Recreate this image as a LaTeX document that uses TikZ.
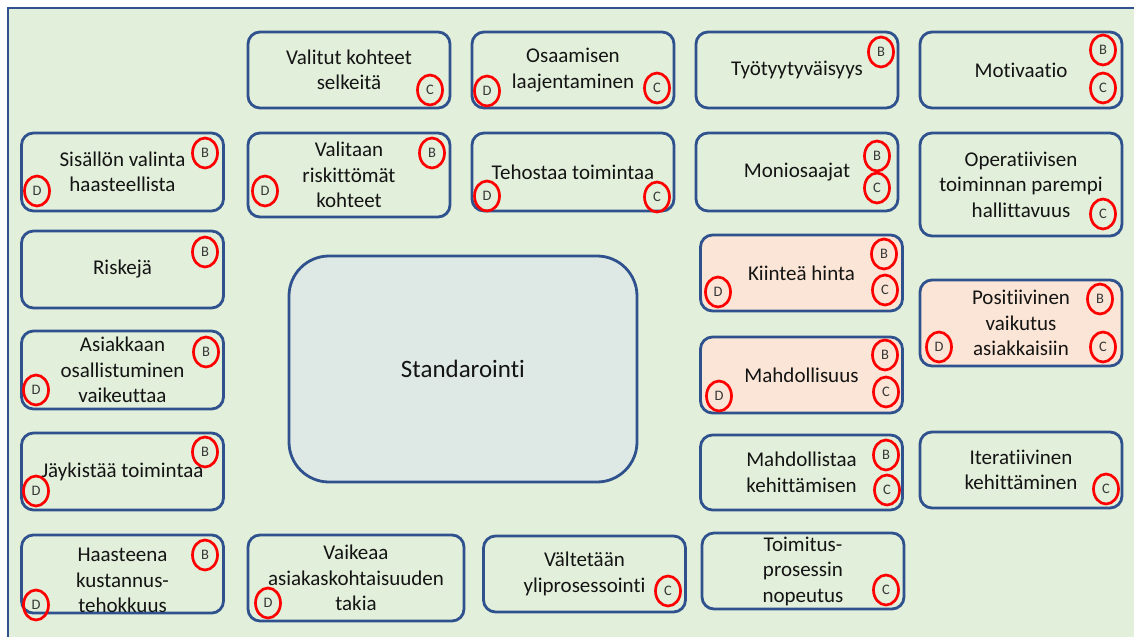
\documentclass[tikz,border=0pt]{standalone}
\usepackage{fontspec}
\setmainfont{Carlito}[Ligatures={NoCommon,NoRequired}]
\usetikzlibrary{shapes.geometric}
\definecolor{bg}{RGB}{226,239,218}
\definecolor{edge}{RGB}{47,82,143}
\definecolor{peach}{RGB}{251,229,214}
\definecolor{core}{RGB}{222,233,229}
\definecolor{ring}{RGB}{255,0,0}
\definecolor{ink}{RGB}{20,20,20}

\begin{document}
\begin{tikzpicture}[x=1pt,y=-1pt,
  box/.style={draw=edge, line width=2.8pt, rounded corners=12pt, align=center,
    inner sep=0pt, text=ink, font=\fontsize{21}{25.5}\selectfont},
  wide/.style={minimum width=202pt},
  warm/.style={fill=peach},
  tag/.style={ellipse, draw=ring, line width=2.7pt, minimum width=25pt,
    minimum height=30pt, inner sep=0pt, text=ink!85,
    font=\fontsize{14.5}{14.5}\selectfont}]

% canvas
\useasboundingbox (0,0) rectangle (1134,637);
\fill[white] (0,0) rectangle (1134,637);
\fill[bg] (8,8) rectangle (1134,637);
\draw[edge, line width=2pt] (8,637) -- (8,8) -- (1134,8);

% row 1
\node[box, wide, minimum height=76pt] (valitut) at (349,70) {Valitut kohteet\\selkeitä};
\node[box, wide, minimum height=76pt] (osaam) at (573,70) {Osaamisen\\laajentaminen};
\node[box, wide, minimum height=76pt] (tyo) at (797,70) {Työtyytyväisyys};
\node[box, wide, minimum height=76pt] (motiv) at (1021,70) {Motivaatio};

% row 2
\node[box, wide, minimum height=78pt] (sisallon) at (122.5,172) {Sisällön valinta\\haasteellista};
\node[box, wide, minimum height=84pt] (valitaan) at (349,175) {Valitaan\\riskittömät\\kohteet};
\node[box, wide, minimum height=78pt] (tehostaa) at (573,172) {Tehostaa toimintaa};
\node[box, wide, minimum height=78pt] (moni) at (797,172) {Moniosaajat};
\node[box, wide, minimum height=103pt] (operat) at (1021,184.5) {Operatiivisen\\toiminnan parempi\\hallittavuus};

% left column
\node[box, wide, minimum height=77pt] (riskeja) at (122.5,269.5) {Riskejä};
\node[box, wide, minimum height=78pt] (asiakkaan) at (122.5,370) {Asiakkaan\\osallistuminen\\vaikeuttaa};
\node[box, wide, minimum height=77pt] (jaykistaa) at (122.5,471.5) {Jäykistää toimintaa};
\node[box, wide, minimum height=78pt] (haasteena) at (122.5,574) {\rule{0pt}{27pt}Haasteena\\kustannus-\\tehokkuus};

% centre
\node[box, rounded corners=40pt, fill=core, minimum width=348pt, minimum height=226pt,
  font=\fontsize{25}{30}\selectfont] (stand) at (463,369) {Standarointi};

% right block
\node[box, wide, warm, minimum height=76pt] (kiintea) at (801.5,273) {Kiinteä hinta};
\node[box, wide, warm, minimum height=86pt] (positiiv) at (1021,323) {Positiivinen\\vaikutus\\asiakkaisiin};
\node[box, wide, warm, minimum height=76pt] (mahdollisuus) at (801.5,375) {Mahdollisuus};
\node[box, wide, minimum height=75pt] (mahdkeh) at (801.5,472.5) {Mahdollistaa\\kehittämisen};
\node[box, wide, minimum height=76pt] (iterat) at (1021,470) {Iteratiivinen\\kehittäminen};

% bottom row
\node[box, minimum width=216pt, minimum height=86pt] (vaikeaa) at (356,578) {Vaikeaa\\asiakaskohtaisuuden\\takia};
\node[box, wide, minimum height=76pt] (valtetaan) at (584.5,574) {Vältetään\\yliprosessointi};
\node[box, wide, minimum height=76pt] (toimitus) at (803,571) {Toimitus-\\prosessin\\nopeutus};

% markers
\node[tag] (valitut-c) at (430,90) {C};
\node[tag] (osaam-d) at (487,91) {D};
\node[tag] (osaam-c) at (657,88) {C};
\node[tag] (tyo-b) at (881,52) {B};
\node[tag] (motiv-b) at (1103,50) {B};
\node[tag] (motiv-c) at (1103,88) {C};
\node[tag] (sisallon-b) at (205,153) {B};
\node[tag] (sisallon-d) at (37,191) {D};
\node[tag] (valitaan-b) at (432,153) {B};
\node[tag] (valitaan-d) at (265,191) {D};
\node[tag] (tehostaa-d) at (487,196) {D};
\node[tag] (tehostaa-c) at (657,197) {C};
\node[tag] (moni-b) at (877,156) {B};
\node[tag] (moni-c) at (877,188) {C};
\node[tag] (operat-c) at (1103,214) {C};
\node[tag] (riskeja-b) at (205,252) {B};
\node[tag] (kiintea-b) at (884,254) {B};
\node[tag] (kiintea-c) at (885,290) {C};
\node[tag] (kiintea-d) at (718,292) {D};
\node[tag] (positiiv-b) at (1100,299) {B};
\node[tag] (positiiv-c) at (1103,347) {C};
\node[tag] (positiiv-d) at (939,347) {D};
\node[tag] (asiakkaan-b) at (206,352) {B};
\node[tag] (asiakkaan-d) at (36,390) {D};
\node[tag] (mahdollisuus-b) at (885,355) {B};
\node[tag] (mahdollisuus-c) at (886,392) {C};
\node[tag] (mahdollisuus-d) at (719,396) {D};
\node[tag] (jaykistaa-b) at (205,452) {B};
\node[tag] (jaykistaa-d) at (36,491) {D};
\node[tag] (mahdkeh-b) at (886,455) {B};
\node[tag] (mahdkeh-c) at (887,490) {C};
\node[tag] (iterat-c) at (1106,489) {C};
\node[tag] (haasteena-b) at (205,555) {B};
\node[tag] (haasteena-d) at (36,605) {D};
\node[tag] (vaikeaa-d) at (268,603) {D};
\node[tag] (valtetaan-c) at (668,591) {C};
\node[tag] (toimitus-c) at (886,590) {C};
\end{tikzpicture}
\end{document}
